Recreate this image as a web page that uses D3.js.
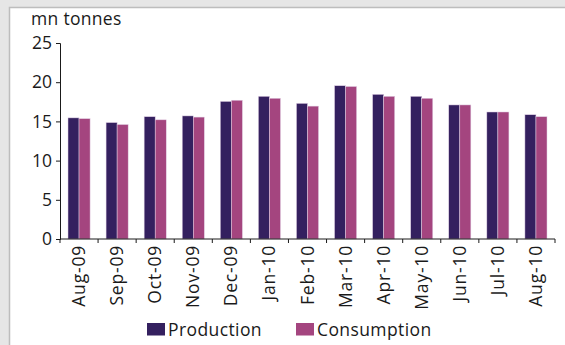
<!DOCTYPE html>
<html>
<head>
<meta charset="utf-8">
<script src="https://cdn.jsdelivr.net/npm/d3@7"></script>
<style>
  body { margin: 0; background: #e6e6e6; }
  svg { display: block; font-family: "Open Sans", "Noto Sans", sans-serif; }
</style>
</head>
<body>
<div id="chart"></div>
<script>
// monthly figures, mn tonnes
const months = ["Aug-09", "Sep-09", "Oct-09", "Nov-09", "Dec-09", "Jan-10", "Feb-10",
                "Mar-10", "Apr-10", "May-10", "Jun-10", "Jul-10", "Aug-10"];
const production  = [15.45, 14.85, 15.6, 15.7, 17.55, 18.2, 17.3, 19.55, 18.45, 18.2, 17.1, 16.2, 15.85];
const consumption = [15.35, 14.6, 15.2, 15.55, 17.7, 17.95, 16.95, 19.45, 18.2, 17.95, 17.1, 16.2, 15.6];
const seriesNames = ["Production", "Consumption"];
const seriesColors = ["#34205f", "#a4457f"];
const yTicks = [0, 5, 10, 15, 20, 25];

const width = 565, height = 345;
const margin = {left: 60, right: 10, top: 43, bottom: 106};
const ink = "#1a1a1a";

const svg = d3.select("#chart").append("svg")
    .attr("width", width)
    .attr("height", height);

// white panel with thin grey border
svg.append("rect")
    .attr("x", 9.5).attr("y", 7.5)
    .attr("width", width).attr("height", height)
    .attr("fill", "#fff")
    .attr("stroke", "#bdbdbd")
    .attr("stroke-width", 1.5);

const x = d3.scaleBand()
    .domain(months)
    .range([margin.left, width - margin.right])
    .paddingInner(0.42)
    .paddingOuter(0.21);

const xSub = d3.scaleBand()
    .domain(seriesNames)
    .range([0, x.bandwidth()]);

const y = d3.scaleLinear()
    .domain([0, 25])
    .range([height - margin.bottom, margin.top]);

const rows = months.map((m, i) => ({month: m, values: [production[i], consumption[i]]}));

const groups = svg.append("g").selectAll("g")
    .data(rows)
    .enter().append("g")
    .attr("transform", d => `translate(${x(d.month)},0)`);

groups.selectAll("rect")
    .data(d => d.values.map((v, k) => ({name: seriesNames[k], value: v, color: seriesColors[k]})))
    .enter().append("rect")
    .attr("x", d => xSub(d.name))
    .attr("y", d => y(d.value))
    .attr("width", xSub.bandwidth())
    .attr("height", d => y(0) - y(d.value))
    .attr("fill", d => d.color)
    .attr("stroke", "#e2d2e6")
    .attr("stroke-width", 0.5);

// y axis
const yAxis = svg.append("g")
    .attr("transform", `translate(${margin.left},0)`)
    .call(d3.axisLeft(y).tickValues(yTicks).tickSize(4).tickPadding(4));
yAxis.selectAll("text")
    .attr("font-size", 17.5)
    .attr("fill", ink)
    .attr("font-family", "Open Sans");
yAxis.selectAll("path, line").attr("stroke", ink);

// x axis, ticks between categories
const xAxisG = svg.append("g")
    .attr("transform", `translate(0,${y(0)})`);
xAxisG.append("line")
    .attr("x1", margin.left).attr("x2", width - margin.right)
    .attr("stroke", ink);
const bounds = d3.range(months.length + 1).map(i => margin.left + i * (width - margin.left - margin.right) / months.length);
xAxisG.selectAll(".tk")
    .data(bounds)
    .enter().append("line")
    .attr("class", "tk")
    .attr("x1", d => d).attr("x2", d => d)
    .attr("y1", 0).attr("y2", 4)
    .attr("stroke", ink);
xAxisG.selectAll(".lbl")
    .data(months)
    .enter().append("text")
    .attr("class", "lbl")
    .attr("transform", d => `translate(${x(d) + x.bandwidth() / 2 + 6},6) rotate(-90)`)
    .attr("text-anchor", "end")
    .attr("font-size", 17.5)
    .attr("letter-spacing", 0.8)
    .attr("fill", ink)
    .text(d => d);

// unit label
svg.append("text")
    .attr("x", 31).attr("y", 25)
    .attr("font-size", 17.5)
    .attr("letter-spacing", 0.3)
    .attr("fill", ink)
    .text("mn tonnes");

// legend
const legendX = [147, 296];
const legend = svg.append("g").selectAll("g")
    .data(seriesNames)
    .enter().append("g")
    .attr("transform", (d, i) => `translate(${legendX[i]},323)`);
legend.append("rect")
    .attr("width", 18).attr("height", 12.5)
    .attr("fill", (d, i) => seriesColors[i]);
legend.append("text")
    .attr("x", 21).attr("y", 13)
    .attr("font-size", 17.5)
    .attr("letter-spacing", 0.4)
    .attr("fill", ink)
    .text(d => d);
</script>
</body>
</html>
